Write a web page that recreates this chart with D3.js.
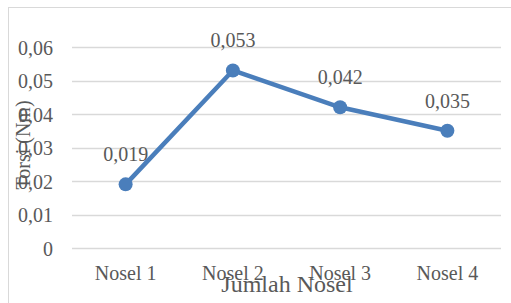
<!DOCTYPE html>
<html>
<head>
<meta charset="utf-8">
<script src="https://cdn.jsdelivr.net/npm/d3@7"></script>
<style>
  body { margin: 0; background: #fff; }
  text { font-family: "Liberation Serif", "Times New Roman", serif; fill: #595959; }
</style>
</head>
<body>
<div id="container"></div>
<script>
// Chart data
const categories = ["Nosel 1", "Nosel 2", "Nosel 3", "Nosel 4"];
const torsi = [0.019, 0.053, 0.042, 0.035];
const labels = ["0,019", "0,053", "0,042", "0,035"];
const yTicks = [0, 0.01, 0.02, 0.03, 0.04, 0.05, 0.06];

let chartWidth = 511;
let chartHeight = 303;

let svg = d3.select('#container')
  .append('svg')
  .attr('width', chartWidth)
  .attr('height', chartHeight);

// Outer frame
svg.append('rect')
  .attr('x', 8.5)
  .attr('y', 7.5)
  .attr('width', 520)
  .attr('height', 310)
  .attr('fill', 'none')
  .attr('stroke', '#d9d9d9');

let xScale = d3.scaleBand()
  .domain(categories)
  .range([72, 501]);

let yScale = d3.scaleLinear()
  .domain([0, 0.06])
  .range([248, 47]);

// Gridlines
svg.append('g')
  .selectAll('line')
  .data(yTicks)
  .enter()
  .append('line')
  .attr('x1', 72)
  .attr('x2', 501)
  .attr('y1', (d) => Math.round(yScale(d)) + 0.5)
  .attr('y2', (d) => Math.round(yScale(d)) + 0.5)
  .attr('stroke', '#d9d9d9')
  .attr('stroke-width', 1.3);

// Y axis
let yAxis = d3.axisLeft(yScale)
  .tickValues(yTicks)
  .tickSize(0)
  .tickPadding(0)
  .tickFormat((d) => d === 0 ? "0" : d3.format(".2f")(d).replace(".", ","));
let yG = svg.append('g')
  .attr('transform', 'translate(53,0)')
  .call(yAxis);
yG.select('.domain').remove();
yG.selectAll('text')
  .style('font-size', '20px')
  .style('font-family', '"Liberation Serif", serif')
  .attr('fill', '#595959')
  .attr('dy', '0.36em');

// X axis
let xAxis = d3.axisBottom(xScale).tickSize(0).tickPadding(0);
let xG = svg.append('g')
  .attr('transform', 'translate(0,248)')
  .call(xAxis);
xG.select('.domain').remove();
xG.selectAll('text')
  .style('font-size', '20px')
  .style('font-family', '"Liberation Serif", serif')
  .attr('fill', '#595959')
  .attr('y', 32)
  .attr('dy', 0);

// Axis titles
svg.append('text')
  .attr('x', 287)
  .attr('y', 292)
  .attr('text-anchor', 'middle')
  .style('font-size', '24px')
  .text('Jumlah Nosel');

svg.append('text')
  .attr('transform', 'translate(30,145) rotate(-90)')
  .attr('text-anchor', 'middle')
  .style('font-size', '20px')
  .text('Torsi (Nm)');

// Line
let line = d3.line()
  .x((d, i) => xScale(categories[i]) + xScale.bandwidth() / 2)
  .y((d) => yScale(d));

svg.append('path')
  .datum(torsi)
  .attr('d', line)
  .attr('fill', 'none')
  .attr('stroke', '#4a7ebb')
  .attr('stroke-width', 4.5)
  .attr('stroke-linejoin', 'round');

svg.append('g')
  .selectAll('circle')
  .data(torsi)
  .enter()
  .append('circle')
  .attr('cx', (d, i) => xScale(categories[i]) + xScale.bandwidth() / 2)
  .attr('cy', (d) => yScale(d))
  .attr('r', 7)
  .attr('fill', '#4a7ebb');

// Data labels
svg.append('g')
  .selectAll('text')
  .data(torsi)
  .enter()
  .append('text')
  .attr('x', (d, i) => xScale(categories[i]) + xScale.bandwidth() / 2)
  .attr('y', (d) => yScale(d) - 23)
  .attr('text-anchor', 'middle')
  .style('font-size', '20px')
  .text((d, i) => labels[i]);
</script>
</body>
</html>
